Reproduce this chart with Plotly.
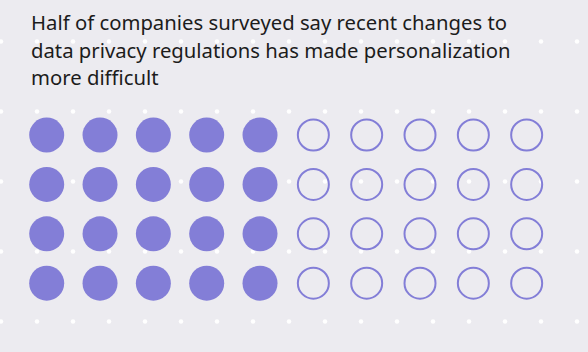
import plotly.graph_objects as go

# Data
title_lines = [
    "Half of companies surveyed say recent changes to",
    "data privacy regulations has made personalization",
    "more difficult",
]
n_cols = 10
n_rows = 4
filled_count = 20  # half of 40

W, H = 588, 352
bg = "#ecebf0"
purple = "#837ed7"

# icon grid positions (pixel space)
x0, dx = 46.7, 53.33
y0, dy = 135.0, 49.4
fx, fy, ox, oy = [], [], [], []
for r in range(n_rows):
    for c in range(n_cols):
        x = x0 + c * dx
        y = y0 + r * dy
        if c < filled_count // n_rows:
            fx.append(x); fy.append(y)
        else:
            ox.append(x); oy.append(y)

# decorative background dot pattern
bx, by = [], []
for yy in [41.5, 111.5, 181.5, 251.5, 321.5]:
    for k in range(17):
        bx.append(1 + 36 * k)
        by.append(yy)

fig = go.Figure()
fig.add_trace(go.Scatter(x=bx, y=by, mode="markers",
                         marker=dict(size=4.5, color="white", line=dict(width=0)),
                         hoverinfo="skip"))
fig.add_trace(go.Scatter(x=fx, y=fy, mode="markers",
                         marker=dict(size=35, color=purple, line=dict(width=0))))
fig.add_trace(go.Scatter(x=ox, y=oy, mode="markers",
                         marker=dict(size=31, color="rgba(0,0,0,0)",
                                     line=dict(width=2, color=purple))))

for i, t in enumerate(title_lines):
    fig.add_annotation(x=29, y=28.3 + i * 27.3, xref="x", yref="y",
                       text=t, showarrow=False, xanchor="left", yanchor="bottom",
                       yshift=-10,
                       font=dict(family="Noto Sans", size=20.3, color="#1c1c1c"))

fig.update_layout(
    width=W, height=H, margin=dict(l=0, r=0, t=0, b=0),
    paper_bgcolor=bg, plot_bgcolor=bg, showlegend=False,
    xaxis=dict(range=[0, W], visible=False, fixedrange=True),
    yaxis=dict(range=[H, 0], visible=False, fixedrange=True),
)
fig.write_html("out.html", config={"displayModeBar": False})
